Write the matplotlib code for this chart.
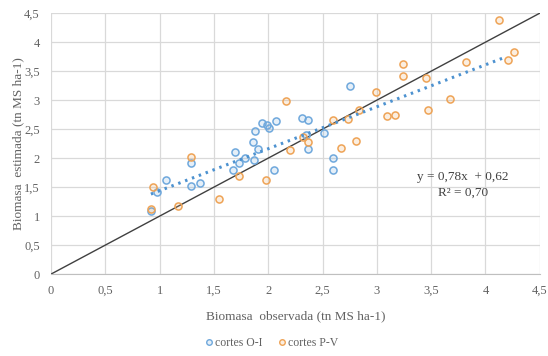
import numpy as np
import matplotlib
matplotlib.use('Agg')
import matplotlib.pyplot as plt
from matplotlib.lines import Line2D

# cortes O-I (blue)
oi_obs = [0.92, 0.98, 1.06, 1.29, 1.29, 1.37, 1.69, 1.68, 1.73, 1.79, 1.87, 1.86, 1.91, 1.88,
          1.94, 1.99, 2.01, 2.07, 2.05, 2.31, 2.37, 2.35, 2.37, 2.51, 2.60, 2.60, 2.75]
oi_est = [1.09, 1.41, 1.62, 1.92, 1.52, 1.57, 2.10, 1.79, 1.91, 2.01, 1.97, 2.27, 2.16, 2.47,
          2.60, 2.57, 2.52, 2.64, 1.79, 2.70, 2.65, 2.40, 2.15, 2.44, 2.00, 1.79, 3.25]

# cortes P-V (orange)
pv_obs = [0.94, 0.92, 1.17, 1.29, 1.55, 1.73, 1.98, 2.16, 2.20, 2.32, 2.37, 2.60, 2.67, 2.73,
          2.81, 2.84, 2.99, 3.09, 3.17, 3.24, 3.24, 3.45, 3.47, 3.67, 3.82, 4.12, 4.21, 4.26]
pv_est = [1.50, 1.13, 1.17, 2.02, 1.30, 1.70, 1.62, 2.99, 2.14, 2.37, 2.28, 2.65, 2.18, 2.68,
          2.29, 2.83, 3.14, 2.73, 2.75, 3.63, 3.41, 3.38, 2.83, 3.02, 3.66, 4.39, 3.69, 3.83]

# trend line as drawn (start / end)
trend_x = [0.92, 4.18]
trend_y = [1.38, 3.74]

ticks = [0, 0.5, 1, 1.5, 2, 2.5, 3, 3.5, 4, 4.5]
tick_labels = ['0', '0,5', '1', '1,5', '2', '2,5', '3', '3,5', '4', '4,5']

blue = '#6fa8dc'
orange = '#eea356'
blue_fill = (0.44, 0.66, 0.86, 0.18)
orange_fill = (0.93, 0.64, 0.34, 0.18)
grid_c = '#d9d9d9'
txt_c = '#626262'
serif = ['Liberation Serif', 'DejaVu Serif']

fig = plt.figure(figsize=(5.48, 3.56), dpi=100)
ax = fig.add_axes([0.093, 0.230, 0.892, 0.733])

ax.plot([0, 4.5], [0, 4.5], color='#404040', lw=1.0, zorder=2)
ax.plot(trend_x, trend_y, color='#4d92d0', lw=2.2, ls=(0, (0.8, 1.6)), zorder=4)

ax.scatter(oi_obs, oi_est, s=26, facecolor=blue_fill, edgecolor=blue, linewidth=1.1, zorder=3)
ax.scatter(pv_obs, pv_est, s=26, facecolor=orange_fill, edgecolor=orange, linewidth=1.1, zorder=3)

ax.set_xlim(0, 4.5)
ax.set_ylim(0, 4.5)
ax.set_xticks(ticks)
ax.set_xticklabels(tick_labels)
ax.set_yticks(ticks)
ax.set_yticklabels(tick_labels)
ax.grid(True, color=grid_c, lw=0.9, zorder=0)
ax.set_axisbelow(True)
for s in ['top', 'right', 'left']:
    ax.spines[s].set_visible(False)
ax.spines['bottom'].set_color('#bfbfbf')
ax.tick_params(length=0, pad=8, labelsize=9, labelcolor=txt_c)
for lab in ax.get_xticklabels() + ax.get_yticklabels():
    lab.set_family(serif)

ax.set_xlabel('Biomasa  observada (tn MS ha-1)', family=serif, fontsize=9.5, color=txt_c)
ax.set_ylabel('Biomasa  estimada (tn MS ha-1)', family=serif, fontsize=9.5, color=txt_c)
ax.xaxis.set_label_coords(0.5, -0.14)
ax.yaxis.set_label_coords(-0.055, 0.5)

ax.text(3.79, 1.68, 'y = 0,78x  + 0,62', family=serif, fontsize=9.5, color='#404040',
        ha='center', va='center')
ax.text(3.79, 1.40, 'R² = 0,70', family=serif, fontsize=9.5, color='#404040',
        ha='center', va='center')

handles = [
    Line2D([], [], ls='none', marker='o', ms=4, mfc=blue_fill, mec=blue, mew=1.0, label='cortes O-I'),
    Line2D([], [], ls='none', marker='o', ms=4, mfc=orange_fill, mec=orange, mew=1.0, label='cortes P-V'),
]
fig.legend(handles=handles, loc='center', bbox_to_anchor=(0.495, 0.037), ncol=2, frameon=False,
           prop={'family': serif, 'size': 8.5}, labelcolor=txt_c, handletextpad=0.05,
           columnspacing=1.3, handlelength=0.8)

fig.savefig('out.png', dpi=100)
